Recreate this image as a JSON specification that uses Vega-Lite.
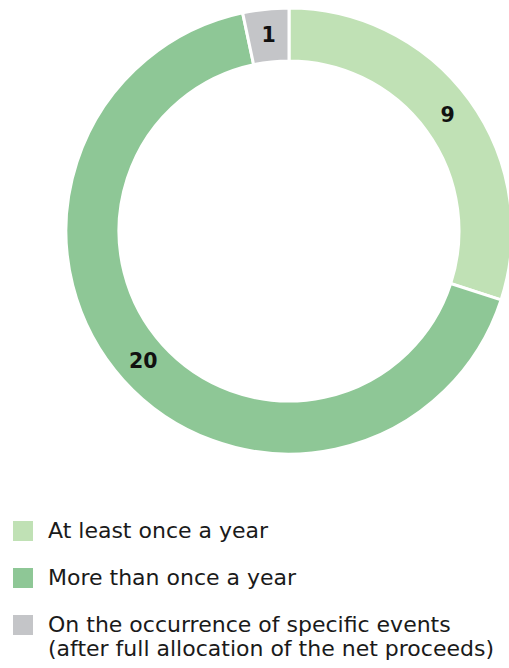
{
  "$schema": "https://vega.github.io/schema/vega-lite/v6.json",
  "width": 578,
  "height": 462,
  "autosize": {"type": "none"},
  "padding": {"left": 0, "top": 0, "right": -69, "bottom": 206},
  "background": "white",
  "config": {"view": {"stroke": null}},
  "data": {
    "values": [
      {"category": "At least once a year", "count": 9, "order": 1},
      {"category": "More than once a year", "count": 20, "order": 2},
      {"category": "On the occurrence of specific events (after full allocation of the net proceeds)", "count": 1, "order": 3}
    ]
  },
  "encoding": {
    "theta": {"field": "count", "type": "quantitative", "stack": true},
    "order": {"field": "order", "type": "quantitative"}
  },
  "layer": [
    {
      "mark": {"type": "arc", "outerRadius": 223, "innerRadius": 170, "stroke": "white", "strokeWidth": 3},
      "encoding": {
        "color": {
          "field": "category",
          "type": "nominal",
          "scale": {
            "domain": ["At least once a year", "More than once a year", "On the occurrence of specific events (after full allocation of the net proceeds)"],
            "range": ["#c0e1b5", "#8ec796", "#c4c5c8"]
          },
          "legend": {
            "orient": "none",
            "legendX": 12,
            "legendY": 520,
            "title": null,
            "padding": 0,
            "symbolType": "square",
            "symbolSize": 400,
            "symbolStrokeWidth": 0,
            "symbolOffset": 0,
            "labelFont": "DejaVu Sans",
            "labelFontSize": 22,
            "labelColor": "#1a1a1a",
            "labelLimit": 600,
            "labelOffset": 14,
            "rowPadding": 25,
            "labelBaseline": "middle",
            "labelExpr": "indexof(datum.label, 'On the') == 0 ? ['On the occurrence of specific events', '(after full allocation of the net proceeds)'] : datum.label",
            "encode": {"labels": {"update": {"lineHeight": {"value": 24}}}}
          }
        }
      }
    },
    {
      "mark": {"type": "text", "radius": 196, "font": "DejaVu Sans", "fontSize": 20.5, "fontWeight": "bold", "color": "#111111"},
      "encoding": {"text": {"field": "count", "type": "quantitative"}}
    }
  ]
}
